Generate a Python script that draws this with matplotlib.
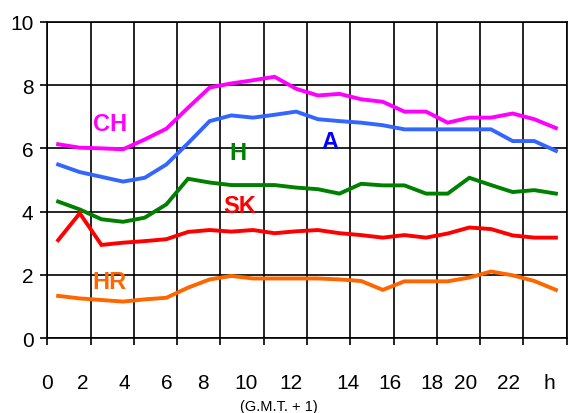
import numpy as np
import matplotlib.pyplot as plt

plt.rcParams['font.family'] = ['Liberation Sans', 'DejaVu Sans']

# hourly values (hour index 0..23, drawn at the middle of each hour)
hours = np.arange(24) + 0.5

ch = [6.13, 6.02, 6.00, 5.97, 6.28, 6.62, 7.28, 7.92, 8.05, 8.15, 8.26, 7.88,
      7.67, 7.72, 7.55, 7.47, 7.16, 7.16, 6.81, 6.97, 6.97, 7.10, 6.92, 6.64]
a = [5.49, 5.25, 5.10, 4.95, 5.07, 5.49, 6.16, 6.86, 7.04, 6.97, 7.06, 7.16,
     6.92, 6.86, 6.81, 6.73, 6.60, 6.60, 6.60, 6.60, 6.60, 6.23, 6.23, 5.92]
h = [4.32, 4.07, 3.76, 3.68, 3.81, 4.23, 5.04, 4.92, 4.84, 4.84, 4.84, 4.76,
     4.71, 4.57, 4.88, 4.83, 4.83, 4.57, 4.57, 5.07, 4.84, 4.62, 4.68, 4.57]
sk = [3.10, 3.95, 2.95, 3.02, 3.07, 3.13, 3.36, 3.42, 3.37, 3.42, 3.32, 3.38,
      3.42, 3.32, 3.26, 3.18, 3.26, 3.18, 3.31, 3.50, 3.45, 3.25, 3.18, 3.18]
hr = [1.34, 1.26, 1.21, 1.16, 1.23, 1.28, 1.60, 1.86, 1.97, 1.89, 1.89, 1.89,
      1.89, 1.86, 1.81, 1.53, 1.80, 1.80, 1.80, 1.92, 2.11, 1.99, 1.81, 1.53]

x_labels = ['0', '2', '4', '6', '8', '10', '12', '14', '16', '18', '20', '22', 'h']
x_label_pos = [0, 1.66, 3.58, 5.51, 7.2, 9.16, 11.27, 13.88, 15.84, 17.76, 19.34, 21.3, 23.22]

series = [
    (ch, '#FF00FF', 'CH', '#FF00FF', 2.89, 6.8),
    (a, '#3366FF', 'A', '#0000FF', 13.06, 6.22),
    (h, '#008000', 'H', '#008000', 8.82, 5.88),
    (sk, '#FF0000', 'SK', '#FF0000', 8.91, 4.21),
    (hr, '#FF6600', 'HR', '#FF6600', 2.89, 1.79),
]

fig = plt.figure(figsize=(5.68, 4.14), dpi=100)
ax = fig.add_axes([0.0833, 0.1804, 0.9145, 0.7648])

for vals, col, name, tcol, tx, ty in series:
    ax.plot(hours, vals, color=col, lw=2.8, solid_joinstyle='miter', zorder=3)
    ax.text(tx, ty, name, color=tcol, fontsize=17, fontweight='bold',
            ha='center', va='center', zorder=4)

ax.set_xlim(0, 24)
ax.set_ylim(0, 10)
ax.set_xticks(np.arange(0, 25, 2))
ax.set_xticklabels([])
ax.set_yticks(np.arange(0, 11, 2))
ax.tick_params(axis='both', direction='out', length=5, width=1.2, color='black')
ax.tick_params(axis='y', labelsize=15, pad=5)
ax.grid(True, color='black', lw=1.2)
ax.set_axisbelow(True)
for s in ['left', 'bottom', 'top', 'right']:
    ax.spines[s].set_color('black')
    ax.spines[s].set_linewidth(1.2)

for lab, xp in zip(x_labels, x_label_pos):
    ax.text(xp, -0.138, lab, transform=ax.get_xaxis_transform(), fontsize=15,
            ha='center', va='center')
ax.text(10.7, -0.213, '(G.M.T. + 1)', transform=ax.get_xaxis_transform(),
        fontsize=10.5, ha='center', va='center')

fig.savefig('out.png', dpi=100)
